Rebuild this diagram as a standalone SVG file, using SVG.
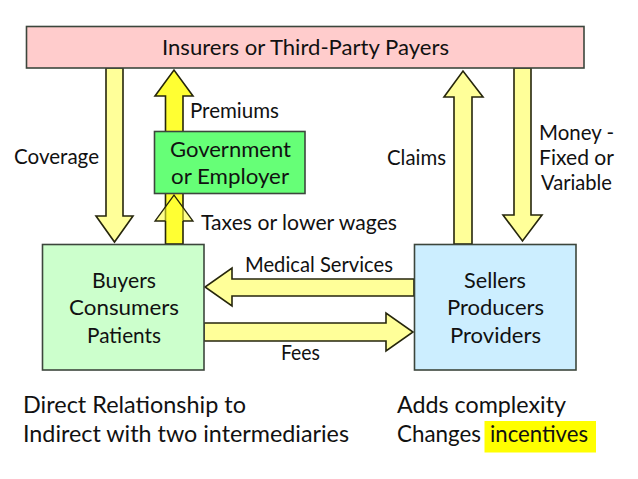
<svg xmlns="http://www.w3.org/2000/svg" width="638" height="479" viewBox="0 0 638 479">
<style>
text{font-family:"Lato","Liberation Sans",sans-serif;font-size:21px;fill:#111;text-anchor:start}
.m{font-size:22px}
.big{font-size:24px}
.box{stroke:#3c463c;stroke-width:1.6}
.a{fill:#ffff99;stroke:#26260c;stroke-width:1.6;stroke-linejoin:miter}
.b{fill:#ffff33}
.t{fill:#ffff33;fill-opacity:.55;stroke:#26260c;stroke-width:1.3}
</style>
<rect width="638" height="479" fill="#fff"/>
<g id="connectors">
<path id="coverage-arrow" class="a" d="M106 68V216H96L114.500 242L133 216H123V68Z"/>
<path id="premiums-arrow" class="a b" d="M165.500 244V96H155L174 70L193 96H183V244Z"/>
<path id="taxes-arrow" class="t" d="M165.500 221H155L174 195L193 221H183"/>
<path id="claims-arrow" class="a" d="M454 244V97H444L463 71L483 97H472V244Z"/>
<path id="money-arrow" class="a" d="M514 68V215H503L522.500 241L542 215H531V68Z"/>
<path id="medical-arrow" class="a" d="M414 279H232V268L205 287L232 306V296H414Z"/>
<path id="fees-arrow" class="a" d="M204 323H386V313L413 332L386 351V341H204Z"/>
</g>
<g id="insurers">
<rect class="box" x="26.500" y="26.500" width="557.500" height="41.500" fill="#ffcccc"/>
<text class="m" x="162" y="55" textLength="287" lengthAdjust="spacingAndGlyphs">Insurers or Third-Party Payers</text>
</g>
<g id="government">
<rect class="box" x="154.500" y="131.500" width="150.500" height="62" fill="#66ff77"/>
<text class="m" x="170" y="157" textLength="121" lengthAdjust="spacingAndGlyphs">Government</text>
<text class="m" x="171" y="184" textLength="118" lengthAdjust="spacingAndGlyphs">or Employer</text>
</g>
<g id="buyers">
<rect class="box" x="42.500" y="244.500" width="161.500" height="125.500" fill="#ccffcc"/>
<text class="m" x="92" y="288" textLength="64" lengthAdjust="spacingAndGlyphs">Buyers</text>
<text class="m" x="69" y="315" textLength="110" lengthAdjust="spacingAndGlyphs">Consumers</text>
<text class="m" x="87" y="343" textLength="74" lengthAdjust="spacingAndGlyphs">Patients</text>
</g>
<g id="sellers">
<rect class="box" x="414.500" y="244.500" width="161.500" height="125.500" fill="#cceeff"/>
<text class="m" x="464" y="288" textLength="62" lengthAdjust="spacingAndGlyphs">Sellers</text>
<text class="m" x="447" y="315" textLength="97" lengthAdjust="spacingAndGlyphs">Producers</text>
<text class="m" x="450" y="343" textLength="91" lengthAdjust="spacingAndGlyphs">Providers</text>
</g>
<g id="labels">
<text x="14" y="164" textLength="85" lengthAdjust="spacingAndGlyphs">Coverage</text>
<text x="190" y="118" textLength="89" lengthAdjust="spacingAndGlyphs">Premiums</text>
<text x="201" y="230" textLength="196" lengthAdjust="spacingAndGlyphs">Taxes or lower wages</text>
<text x="387" y="165" textLength="59" lengthAdjust="spacingAndGlyphs">Claims</text>
<text x="539" y="140" textLength="75" lengthAdjust="spacingAndGlyphs">Money -</text>
<text x="539" y="165" textLength="75" lengthAdjust="spacingAndGlyphs">Fixed or</text>
<text x="541" y="190" textLength="71" lengthAdjust="spacingAndGlyphs">Variable</text>
<text x="245" y="272" textLength="148" lengthAdjust="spacingAndGlyphs">Medical Services</text>
<text x="281" y="360" textLength="39" lengthAdjust="spacingAndGlyphs">Fees</text>
</g>
<g id="notes">
<rect x="484.500" y="421" width="111.500" height="31.500" fill="#ffff00"/>
<text class="big" x="23" y="413" textLength="223" lengthAdjust="spacingAndGlyphs">Direct Relationship to</text>
<text class="big" x="23" y="442" textLength="326" lengthAdjust="spacingAndGlyphs">Indirect with two intermediaries</text>
<text class="big" x="397" y="413" textLength="169" lengthAdjust="spacingAndGlyphs">Adds complexity</text>
<text class="big" x="397" y="442" textLength="84" lengthAdjust="spacingAndGlyphs">Changes</text>
<text class="big" x="490" y="442" textLength="98" lengthAdjust="spacingAndGlyphs">incentives</text>
</g>
</svg>
